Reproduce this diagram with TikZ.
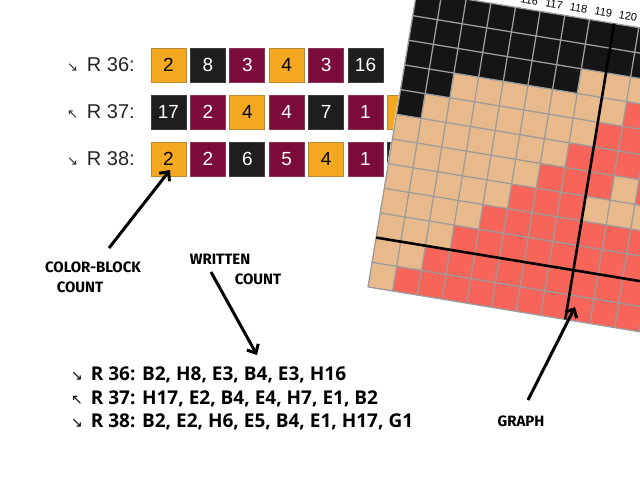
\documentclass[tikz,border=0pt]{standalone}
\usepackage{fontspec}
\setmainfont{Liberation Sans}
\newfontfamily\symf{DejaVu Sans}
\newfontfamily\wfont{Open Sans}
\newfontfamily\handf{Fira Sans}
\usetikzlibrary{arrows.meta}
\definecolor{cOr}{HTML}{F3A820}
\definecolor{cOrD}{HTML}{B98A35}
\definecolor{cH}{HTML}{1E1E1E}
\definecolor{cHd}{HTML}{3C3C3C}
\definecolor{cE}{HTML}{7A0B3A}
\definecolor{cEd}{HTML}{8E3358}
\definecolor{cTan}{HTML}{E8B98A}
\definecolor{cRed}{HTML}{F7655A}
\definecolor{cBlk}{HTML}{151515}
\definecolor{cGrid}{HTML}{9C9C9C}
\tikzset{
  cb/.style={minimum width=35pt, minimum height=34pt, inner sep=0pt, line width=0.8pt,
    font=\fontsize{19}{19}\selectfont},
  bO/.style={cb, fill=cOr, draw=cOrD, text=black},
  bH/.style={cb, fill=cH, draw=cHd, text=white},
  bE/.style={cb, fill=cE, draw=cEd, text=white},
  rowlbl/.style={anchor=west, inner sep=0pt, font=\fontsize{20}{20}\selectfont, text=black!85},
  wline/.style={anchor=west, inner sep=0pt, font=\wfont\bfseries\fontsize{19}{19}\selectfont},
  hand/.style={inner sep=0pt, font=\handf\bfseries\fontsize{15}{15}\selectfont},
  bigarrow/.style={line width=3pt, -{Straight Barb[length=7pt,width=13pt]}},
  gridln/.style={cGrid, line width=1.3pt},
  thk/.style={black, line width=2.6pt},
  collbl/.style={inner sep=0pt, font=\fontsize{11}{11}\selectfont, rotate=-9.5}
}
\newcommand{\wsym}[1]{{\symf\mdseries\fontsize{14}{14}\selectfont #1}\hspace*{8pt}}
\begin{document}
\begin{tikzpicture}[x=1pt,y=-1pt]
\useasboundingbox (0,0) rectangle (640,480);
\clip (0,0) rectangle (640,480);
\fill[white] (0,0) rectangle (640,480);

% row labels
\node[rowlbl] (l36) at (67,65) {{\symf\fontsize{13}{13}\selectfont ↘}\, R 36:};
\node[rowlbl] (l37) at (67,112) {{\symf\fontsize{13}{13}\selectfont ↖}\, R 37:};
\node[rowlbl] (l38) at (67,159) {{\symf\fontsize{13}{13}\selectfont ↘}\, R 38:};

% colour blocks
\foreach \s/\n [count=\k from 0] in {bO/2, bH/8, bE/3, bO/4, bE/3, bH/16}
  \node[\s] (a\k) at ({168.5+39.4*\k},65) {\n};
\foreach \s/\n [count=\k from 0] in {bH/17, bE/2, bO/4, bE/4, bH/7, bE/1, bO/2}
  \node[\s] (b\k) at ({168.5+39.4*\k},112) {\n};
\foreach \s/\n [count=\k from 0] in {bO/2, bE/2, bH/6, bE/5, bO/4, bE/1, bH/17}
  \node[\s] (c\k) at ({168.5+39.4*\k},159) {\n};

% graph
\begin{scope}[shift={(368,286.9)}, x={(24.66pt,-4.07pt)}, y={(4.07pt,24.66pt)}]
  \fill[white] (-0.04,-0.1) -- (12.5,-0.1) -- (12.5,12.9) -- (-0.04,12.9) -- cycle;
  \fill[cTan] (0,0) -- (12,0) -- (12,12) -- (0,12) -- cycle;
  \fill[cRed] (1,0) -- (12,0) -- (12,10) -- (10,10) -- (10,9) -- (9,9) -- (9,8) -- (8,8)
    -- (8,7) -- (7,7) -- (7,6) -- (6,6) -- (6,5) -- (5,5) -- (5,4) -- (4,4) -- (4,3)
    -- (3,3) -- (3,2) -- (2,2) -- (2,1) -- (1,1) -- cycle;
  \fill[cTan] (8,4) -- (11,4) -- (11,5) -- (10,5) -- (10,6) -- (9,6) -- (9,5) -- (8,5) -- cycle;
  \fill[cBlk] (0,7) -- (1,7) -- (1,8) -- (2,8) -- (2,9) -- (7,9) -- (7,10) -- (12,10)
    -- (12,12) -- (0,12) -- cycle;
  \foreach \i in {0,...,12} \draw[gridln] (\i,0) -- (\i,12);
  \foreach \j in {0,...,12} \draw[gridln] (0,\j) -- (12,\j);
  \draw[thk] (8,0) -- (8,12);
  \draw[thk] (0,2) -- (12,2);
  \foreach \c [count=\k from 4] in {116,117,118,119,120}
    \node[collbl] (col\c) at (\k+0.5,12.38) {\c};
\end{scope}

% written rows
\node[wline] (w36) at (71,375) {\wsym{↘}R 36: B2, H8, E3, B4, E3, H16};
\node[wline] (w37) at (71,399) {\wsym{↖}R 37: H17, E2, B4, E4, H7, E1, B2};
\node[wline] (w38) at (71,422) {\wsym{↘}R 38: B2, E2, H6, E5, B4, E1, H17, G1};

% hand labels
\node[hand] (cbl1) at (93,267) {COLOR-BLOCK};
\node[hand] (cbl2) at (80,287) {COUNT};
\node[hand] (wr1) at (220,259) {WRITTEN};
\node[hand] (wr2) at (258,279) {COUNT};
\node[hand] (gr) at (521,421) {GRAPH};

% arrows
\coordinate (s1) at (109,248);
\coordinate (t1) at (170,170);
\coordinate (s2) at (211,272);
\coordinate (t2) at (257,355);
\coordinate (s3) at (528,400);
\coordinate (t3) at (575,307);
\draw[bigarrow] (s1) -- (t1);
\draw[bigarrow] (s2) -- (t2);
\draw[bigarrow] (s3) -- (t3);
\end{tikzpicture}
\end{document}
